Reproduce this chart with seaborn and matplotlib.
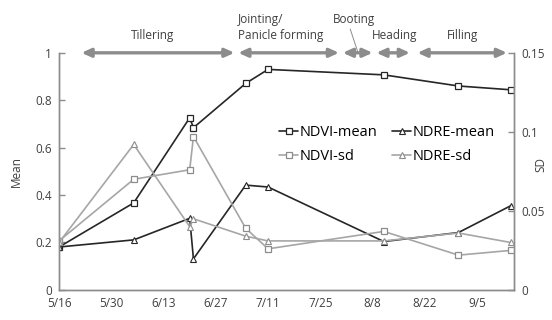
import matplotlib
matplotlib.use('Agg')
import matplotlib.pyplot as plt
import matplotlib.dates as mdates
import pandas as pd
import seaborn as sns

sns.set_style('white')
plt.rcParams['font.family'] = ['Open Sans', 'DejaVu Sans']

# sampling dates (year is arbitrary)
dates = ['2019-05-16', '2019-06-05', '2019-06-20', '2019-06-21', '2019-07-05',
         '2019-07-11', '2019-08-11', '2019-08-31', '2019-09-14']
ndvi_mean = [0.181, 0.367, 0.726, 0.684, 0.871, 0.930, 0.907, 0.860, 0.844]
ndre_mean = [0.181, 0.211, 0.302, 0.131, 0.442, 0.434, 0.204, 0.242, 0.355]
ndvi_sd = [0.031, 0.070, 0.076, 0.097, 0.039, 0.026, 0.037, 0.022, 0.025]
ndre_sd = [0.030, 0.092, 0.040, 0.045, 0.034, 0.031, 0.031, 0.036, 0.030]

# growth stages (start, end)
stage_start = ['2019-05-22', '2019-07-03', '2019-07-31', '2019-08-09', '2019-08-20']
stage_end = ['2019-07-02', '2019-07-30', '2019-08-08', '2019-08-18', '2019-09-13']

tick_dates = pd.date_range('2019-05-16', '2019-09-05', freq='14D')

df = pd.DataFrame({'date': pd.to_datetime(dates),
                   'NDVI-mean': ndvi_mean, 'NDRE-mean': ndre_mean,
                   'NDVI-sd': ndvi_sd, 'NDRE-sd': ndre_sd})

dark = '#262626'
light = '#a6a6a6'
axcol = '#8c8c8c'
txtcol = '#404040'

fig = plt.figure(figsize=(5.52, 3.2), dpi=100)
ax = fig.add_axes([0.107, 0.094, 0.825, 0.741])
ax2 = ax.twinx()

sns.lineplot(data=df, x='date', y='NDVI-mean', ax=ax, color=dark, lw=1.2,
             marker='s', ms=5, mfc='white', mec=dark, mew=0.9, label='NDVI-mean', legend=False)
sns.lineplot(data=df, x='date', y='NDRE-mean', ax=ax, color=dark, lw=1.2,
             marker='^', ms=4.5, mfc='white', mec=dark, mew=0.8, label='NDRE-mean', legend=False)
sns.lineplot(data=df, x='date', y='NDVI-sd', ax=ax2, color=light, lw=1.2,
             marker='s', ms=5, mfc='white', mec='#8c8c8c', mew=0.9, label='NDVI-sd', legend=False)
sns.lineplot(data=df, x='date', y='NDRE-sd', ax=ax2, color=light, lw=1.2,
             marker='^', ms=4.5, mfc='white', mec='#8c8c8c', mew=0.8, label='NDRE-sd', legend=False)

xmin, xmax = pd.Timestamp('2019-05-16'), pd.Timestamp('2019-09-15')
ax.set_xlim(xmin, xmax)
ax.set_ylim(0, 1)
ax2.set_ylim(0, 0.15)
ax.set_xticks(tick_dates)
ax.xaxis.set_major_formatter(
    plt.FuncFormatter(lambda v, p: f"{mdates.num2date(v).month}/{mdates.num2date(v).day}"))
ax.set_yticks([0, 0.2, 0.4, 0.6, 0.8, 1])
ax.set_yticklabels(['0', '0.2', '0.4', '0.6', '0.8', '1'])
ax2.set_yticks([0, 0.05, 0.1, 0.15])
ax2.set_yticklabels(['0', '0.05', '0.1', '0.15'])

for a in (ax, ax2):
    for s in a.spines.values():
        s.set_color(axcol)
        s.set_linewidth(1.0)
    a.spines['top'].set_visible(False)
    a.tick_params(direction='in', length=4, width=1, color=axcol,
                  labelcolor=txtcol, labelsize=8.5, pad=5)

ax.set_xlabel('')
ax.set_ylabel('Mean', fontsize=8.5, color=txtcol, labelpad=9)
ax2.set_ylabel('')
fig.text(541 / 552, 1 - 165 / 320, 'SD', rotation=90, ha='center', va='center',
         fontsize=8.5, color=txtcol)

# growth stage arrows along the top
for s, e in zip(stage_start, stage_end):
    ax.annotate('', xy=(pd.Timestamp(e), 1.0), xytext=(pd.Timestamp(s), 1.0),
                xycoords='data', annotation_clip=False,
                arrowprops=dict(arrowstyle='<|-|>,head_length=0.55,head_width=0.25',
                                color=axcol, lw=2.4, shrinkA=0, shrinkB=0))

ax.text(pd.Timestamp('2019-06-10'), 1.045, 'Tillering', ha='center', va='bottom',
        fontsize=8.5, color=txtcol)
ax.text(pd.Timestamp('2019-07-03'), 1.045, 'Jointing/\nPanicle forming', ha='left', va='bottom',
        fontsize=8.5, color=txtcol, linespacing=1.3)
ax.text(pd.Timestamp('2019-08-03'), 1.115, 'Booting', ha='center', va='bottom',
        fontsize=8.5, color=txtcol)
ax.annotate('', xy=(pd.Timestamp('2019-08-04'), 1.005), xytext=(pd.Timestamp('2019-08-02'), 1.1),
            annotation_clip=False,
            arrowprops=dict(arrowstyle='-', color=axcol, lw=0.7, shrinkA=0, shrinkB=0))
ax.text(pd.Timestamp('2019-08-14'), 1.045, 'Heading', ha='center', va='bottom',
        fontsize=8.5, color=txtcol)
ax.text(pd.Timestamp('2019-09-01'), 1.045, 'Filling', ha='center', va='bottom',
        fontsize=8.5, color=txtcol)

h1, l1 = ax.get_legend_handles_labels()
h2, l2 = ax2.get_legend_handles_labels()
handles = [h1[0], h2[0], h1[1], h2[1]]
labels = [l1[0], l2[0], l1[1], l2[1]]
ax.legend(handles, labels, ncol=2, frameon=False, fontsize=10.5, handlelength=1.3,
          handletextpad=0.1, columnspacing=1.0, labelspacing=0.6,
          loc='upper left', bbox_to_anchor=(0.455, 0.75), labelcolor='#000000')

fig.savefig('out.png', dpi=100)
